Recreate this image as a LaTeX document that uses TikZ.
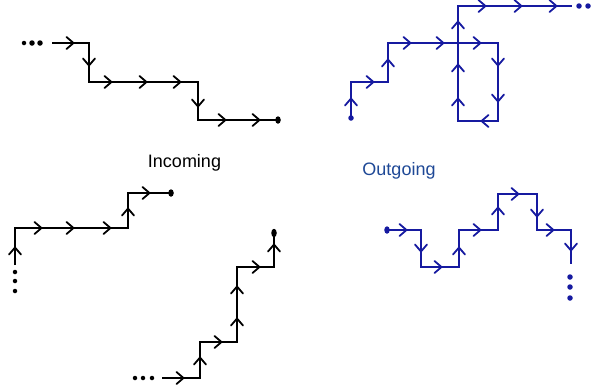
\documentclass[tikz,border=0pt]{standalone}
\usepackage{fontspec}
\setmainfont{Liberation Sans}
\definecolor{pathblue}{RGB}{22,26,160}
\definecolor{labelblue}{RGB}{30,72,150}
\tikzset{
  trail/.style={line width=1.8pt, line join=miter},
  chevron/.style={line width=1.8pt, line cap=round, line join=round},
  pics/chr/.style={code={\draw[chevron] (-3.5,-6) -- (3.5,0) -- (-3.5,6);}},
  pics/chl/.style={code={\draw[chevron] (3.5,-6) -- (-3.5,0) -- (3.5,6);}},
  pics/chu/.style={code={\draw[chevron] (-6,3.5) -- (0,-3.5) -- (6,3.5);}},
  pics/chd/.style={code={\draw[chevron] (-6,-3.5) -- (0,3.5) -- (6,-3.5);}},
  dotm/.style={fill, circle, inner sep=0pt, minimum size=5.5pt},
  enddot/.style={fill, ellipse, inner sep=0pt, minimum width=5.5pt, minimum height=7.5pt},
  lab/.style={font=\fontsize{18}{20}\selectfont, anchor=base}
}
\usetikzlibrary{shapes.geometric}
\begin{document}
\begin{tikzpicture}[x=1pt,y=-1pt]
\useasboundingbox (0,0) rectangle (593,389);

% ---- Panel 1 (top left, black)
\node[dotm, minimum size=4.5pt] (d1a) at (24,43) {};
\node[dotm] (d1b) at (32,43) {};
\node[dotm] (d1c) at (40,43) {};
\coordinate (p1s) at (52,43);
\node[enddot] (p1e) at (278,120) {};
\draw[trail] (p1s) -- (89,43) -- (89,82) -- (198,82) -- (198,120) -- (p1e.center);
\pic at (70,43) {chr};
\pic at (89,62) {chd};
\pic at (108,82) {chr};
\pic at (143,82) {chr};
\pic at (177,82) {chr};
\pic at (198,103) {chd};
\pic at (222,120) {chr};
\pic at (256,120) {chr};

% ---- Panel 2 (top right, blue)
\begin{scope}[pathblue]
\node[dotm] (p2s) at (351,118) {};
\coordinate (p2e) at (572,6);
\draw[trail] (p2s.center) -- (351,82) -- (388,82) -- (388,43) -- (498,43) -- (498,121) -- (458,121) -- (458,6) -- (p2e);
\node[dotm] (d2a) at (579,6) {};
\node[dotm] (d2b) at (588,6) {};
\pic at (351,102) {chu};
\pic at (370,82) {chr};
\pic at (388,63) {chu};
\pic at (407,43) {chr};
\pic at (440,43) {chr};
\pic at (477,43) {chr};
\pic at (498,62) {chd};
\pic at (498,98) {chd};
\pic at (485,121) {chl};
\pic at (458,102) {chu};
\pic at (458,68) {chu};
\pic at (458,25) {chu};
\pic at (482,6) {chr};
\pic at (518,6) {chr};
\pic at (553,6) {chr};
\end{scope}

% ---- Panel 3 (bottom left, black)
\node[dotm, minimum size=4.5pt] (d3a) at (15,272) {};
\node[dotm, minimum size=4.5pt] (d3b) at (15,281) {};
\node[dotm, minimum size=4.5pt] (d3c) at (15,291) {};
\coordinate (p3s) at (15,265);
\node[enddot] (p3e) at (171,193) {};
\draw[trail] (p3s) -- (15,228) -- (128,228) -- (128,193) -- (p3e.center);
\pic at (15,251) {chu};
\pic at (38,228) {chr};
\pic at (70,228) {chr};
\pic at (107,228) {chr};
\pic at (128,212) {chu};
\pic at (146,193) {chr};

% ---- Panel 4 (bottom middle, black)
\node[dotm, minimum size=4.5pt] (d4a) at (135,378) {};
\node[dotm, minimum size=4.5pt] (d4b) at (143,378) {};
\node[dotm, minimum size=4.5pt] (d4c) at (152,378) {};
\coordinate (p4s) at (162,378);
\node[enddot, minimum height=8.5pt] (p4e) at (274,233) {};
\draw[trail] (p4s) -- (200,378) -- (200,342) -- (237,342) -- (237,267) -- (274,267) -- (p4e.center);
\pic at (180,378) {chr};
\pic at (200,361) {chu};
\pic at (218,342) {chr};
\pic at (237,322) {chu};
\pic at (237,290) {chu};
\pic at (256,267) {chr};
\pic at (274,248) {chu};

% ---- Panel 5 (bottom right, blue)
\begin{scope}[pathblue]
\node[enddot] (p5s) at (387,230) {};
\coordinate (p5e) at (571,264);
\draw[trail] (p5s.center) -- (421,230) -- (421,267) -- (459,267) -- (459,230) -- (498,230) -- (498,194) -- (537,194) -- (537,230) -- (571,230) -- (p5e);
\node[dotm] (d5a) at (570,277) {};
\node[dotm] (d5b) at (570,287) {};
\node[dotm] (d5c) at (570,298) {};
\pic at (403,230) {chr};
\pic at (421,248) {chd};
\pic at (438,267) {chr};
\pic at (459,251) {chu};
\pic at (477,230) {chr};
\pic at (498,211) {chu};
\pic at (515,194) {chr};
\pic at (537,213) {chd};
\pic at (550,230) {chr};
\pic at (571,247) {chd};
\end{scope}

% ---- Labels
\node[lab] (inc) at (184.5,167) {Incoming};
\node[lab, text=labelblue] (out) at (399,175) {Outgoing};
\end{tikzpicture}
\end{document}
